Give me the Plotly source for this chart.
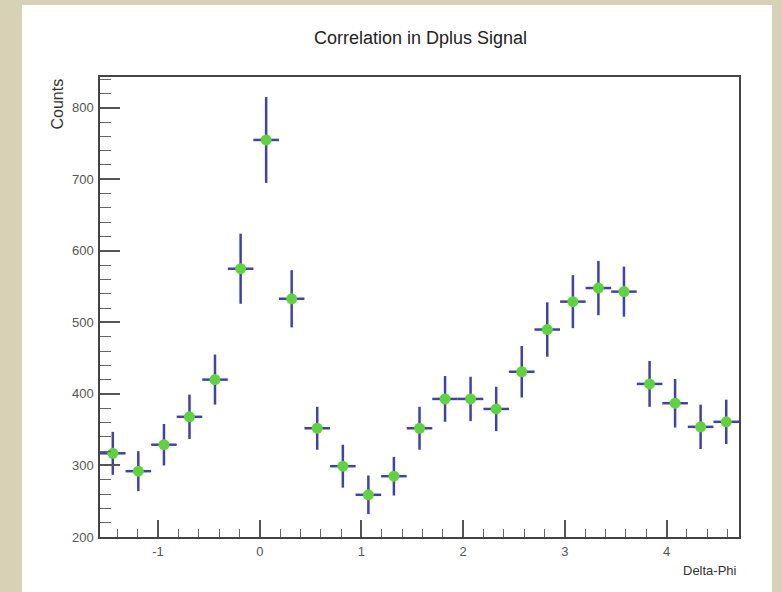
import plotly.graph_objects as go

# Data
delta_phi = [-1.445, -1.194, -0.942, -0.691, -0.440, -0.188, 0.063, 0.314, 0.565,
             0.817, 1.068, 1.319, 1.571, 1.822, 2.073, 2.325, 2.576, 2.827, 3.079,
             3.330, 3.581, 3.833, 4.084, 4.335, 4.587]
counts = [317, 292, 329, 368, 420, 575, 755, 533, 352, 299, 259, 285, 352,
          393, 393, 379, 431, 490, 529, 548, 543, 414, 387, 354, 361]
count_err = [30, 28, 29, 31, 35, 49, 60, 40, 30, 30, 27, 27, 30,
             32, 31, 31, 36, 38, 37, 38, 35, 32, 34, 31, 31]
bin_half_width = [0.1257] * len(delta_phi)

x_tickvals = [-1, 0, 1, 2, 3, 4]
x_ticktext = ["-1", "0", "1", "2", "3", "4"]
y_tickvals = [200, 300, 400, 500, 600, 700, 800]
y_ticktext = ["200", "300", "400", "500", "600", "700", "800"]

title_text = "Correlation in Dplus Signal"
x_title = "Delta-Phi"
y_title = "Counts"

W, H = 782, 592
ML, MR, MT, MB = 100, 43, 77, 55
PW, PH = W - ML - MR, H - MT - MB


def px_x(p):
    return (p - ML) / PW


def px_y(p):
    return (H - MB - p) / PH


FONT = "Liberation Sans, Arial, sans-serif"

fig = go.Figure()
fig.add_trace(go.Scatter(
    x=delta_phi, y=counts, mode="markers",
    marker=dict(color="#5cd636", size=11, line=dict(width=0)),
    error_y=dict(type="data", array=count_err, color="#4040b4", thickness=2.5, width=0),
    error_x=dict(type="data", array=bin_half_width, color="#4040b4", thickness=2.5, width=0),
    showlegend=False,
))

tick_font = dict(family=FONT, size=13, color="#555")

fig.update_layout(
    width=W, height=H,
    margin=dict(l=ML, r=MR, t=MT, b=MB, pad=0),
    paper_bgcolor="#d7d2b6",
    plot_bgcolor="white",
    font=tick_font,
    xaxis=dict(
        range=[-1.5708, 4.7124], showgrid=False, zeroline=False,
        showline=True, linecolor="#444", linewidth=1.5, mirror=True,
        ticks="inside", ticklen=17, tickwidth=1.5, tickcolor="#555",
        tickmode="array", tickvals=x_tickvals, ticktext=x_ticktext,
        tickfont=tick_font, ticklabelstandoff=2,
        minor=dict(dtick=0.2, tick0=0, ticks="inside", ticklen=8, tickcolor="#666", tickwidth=1.2),
    ),
    yaxis=dict(
        range=[200, 843], showgrid=False, zeroline=False,
        showline=True, linecolor="#444", linewidth=1.5, mirror=True,
        ticks="inside", ticklen=20, tickwidth=1.5, tickcolor="#555",
        tickmode="array", tickvals=y_tickvals, ticktext=y_ticktext,
        tickfont=tick_font, ticklabelstandoff=2,
        minor=dict(dtick=20, tick0=0, ticks="inside", ticklen=11, tickcolor="#666", tickwidth=1.2),
    ),
    shapes=[dict(
        type="rect", xref="paper", yref="paper", layer="below",
        x0=px_x(22), x1=px_x(772), y0=px_y(592), y1=px_y(5),
        fillcolor="white", line=dict(width=0),
    )],
    annotations=[
        dict(text=title_text, xref="paper", yref="paper", x=px_x(420), y=px_y(38),
             xanchor="center", yanchor="middle", showarrow=False,
             font=dict(family=FONT, size=18, color="#222")),
        dict(text=x_title, xref="paper", yref="paper", x=1.0, y=px_y(570),
             xanchor="right", yanchor="middle", showarrow=False,
             font=dict(family=FONT, size=13, color="#333")),
        dict(text=y_title, xref="paper", yref="paper", x=px_x(57), y=1.0,
             xanchor="center", yanchor="top", textangle=-90, showarrow=False,
             font=dict(family=FONT, size=16, color="#333")),
    ],
)

fig.write_html("out.html")
